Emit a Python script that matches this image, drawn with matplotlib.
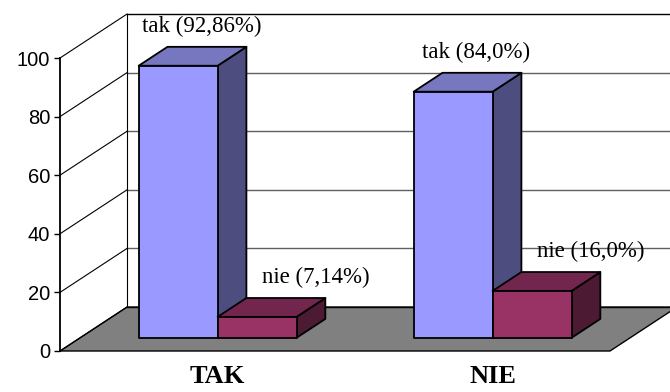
import numpy as np
import matplotlib
matplotlib.use('Agg')
import matplotlib.pyplot as plt
from matplotlib.patches import Polygon

categories = ['TAK', 'NIE']
series = ['tak', 'nie']
tak_values = [92.86, 84.0]
nie_values = [7.14, 16.0]
tak_labels = ['tak (92,86%)', 'tak (84,0%)']
nie_labels = ['nie (7,14%)', 'nie (16,0%)']
yticks = [0, 20, 40, 60, 80, 100]

# 3d look: depth offset of the back wall in data units
DX, DY = 0.2436, 15.0
D0, D1 = 0.3, 0.73      # bar depth (front/back fraction)
BW = 0.287              # bar width

front_cols = ['#9999FF', '#993366']
top_cols = ['#7777C0', '#73264D']
side_cols = ['#4D4D80', '#4D1A33']


def P(x, v, d):
    return (x + d * DX, v + d * DY)


fig = plt.figure(figsize=(6.7, 3.92), dpi=100)
ax = fig.add_axes([60 / 670, 41 / 392, 550 / 670, 293 / 392])
ax.set_xlim(0, 2)
ax.set_ylim(0, 100)
for s in ['top', 'right', 'bottom']:
    ax.spines[s].set_visible(False)
ax.spines['left'].set_linewidth(1.3)
ax.set_yticks(yticks)
ax.tick_params(axis='y', length=4, width=1, labelsize=14.5, pad=3)
for t in ax.get_yticklabels():
    t.set_fontfamily('Liberation Sans')
ax.set_facecolor('none')

# floor
floor = Polygon([P(0, 0, 0), P(2, 0, 0), P(2, 0, 1), P(0, 0, 1)],
                closed=True, facecolor='#808080', edgecolor='black', lw=1.0,
                clip_on=False, zorder=1)
ax.add_patch(floor)

# back wall grid + left wall diagonals
for v in yticks:
    x0, y0 = P(0, v, 1)
    x1, y1 = P(2.1, v, 1)
    col = 'black' if v in (0, 100) else '#606060'
    ax.plot([x0, x1 + 0.2], [y0, y1], color=col, lw=1.0, clip_on=False, zorder=1.5)
    fx, fy = P(0, v, 0)
    ax.plot([fx, x0], [fy, y0], color='black', lw=0.8, clip_on=False, zorder=1.5)
bx, by0 = P(0, 0, 1)
_, by1 = P(0, 100, 1)
ax.plot([bx, bx], [by0, by1], color='black', lw=0.8, clip_on=False, zorder=1.5)

# bars
all_vals = [tak_values, nie_values]
all_labels = [tak_labels, nie_labels]
label_dx = [0.085, 0.215]
for i in range(len(categories)):
    for j in range(len(series)):
        v = all_vals[j][i]
        x0 = i + 0.5 - BW + j * BW
        x1 = x0 + BW
        z = 3 + i * 2 + j
        front = [P(x0, 0, D0), P(x1, 0, D0), P(x1, v, D0), P(x0, v, D0)]
        top = [P(x0, v, D0), P(x1, v, D0), P(x1, v, D1), P(x0, v, D1)]
        side = [P(x1, 0, D0), P(x1, 0, D1), P(x1, v, D1), P(x1, v, D0)]
        for pts, c in [(side, side_cols[j]), (top, top_cols[j]), (front, front_cols[j])]:
            ax.add_patch(Polygon(pts, closed=True, facecolor=c, edgecolor='black',
                                 lw=1.3, joinstyle='round', clip_on=False, zorder=z))
        cx, cy = P((x0 + x1) / 2, v, D0)
        ax.text(cx + label_dx[j], cy + 13.5, all_labels[j][i], ha='center', va='center',
                fontsize=16.5, family='Liberation Serif', clip_on=False, zorder=10)

# category labels
ax.set_xticks([P(i + 0.5, 0, D0)[0] for i in range(len(categories))])
ax.set_xticklabels(categories, fontsize=19, fontweight='bold', family='Liberation Serif')
ax.tick_params(axis='x', length=0, pad=10)

fig.savefig('out.png', dpi=100)
